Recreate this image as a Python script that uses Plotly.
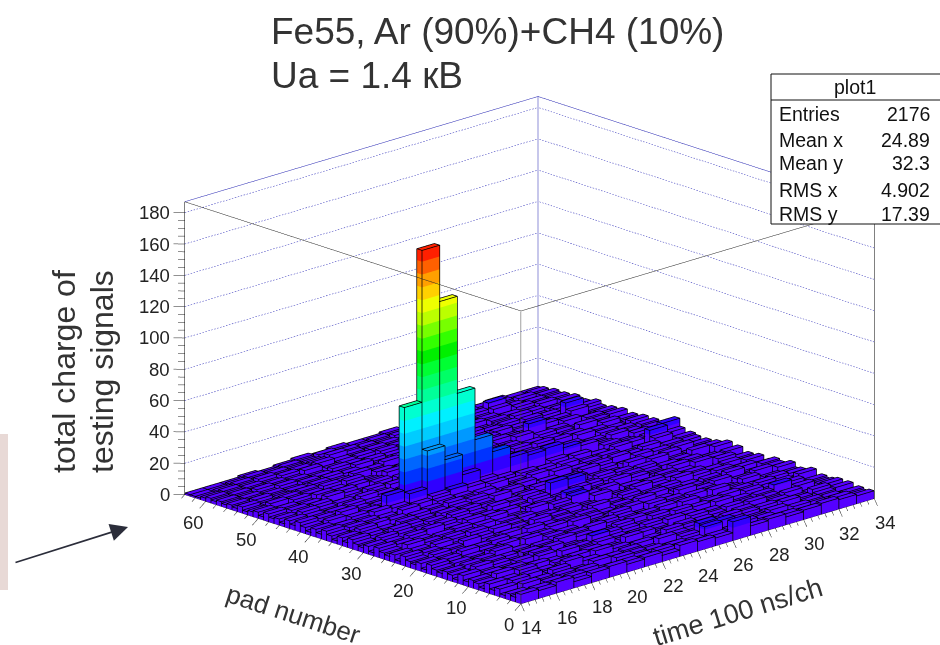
import plotly.graph_objects as go

W, H = 940, 645

# ---------- data ----------
time_bins = list(range(14, 34))   # lower edge of each 1-wide time bin
pad_bins = list(range(0, 64))     # lower edge of each 1-wide pad bin
z_ticks = [0, 20, 40, 60, 80, 100, 120, 140, 160, 180]
pad_ticks = [0, 10, 20, 30, 40, 50, 60]
time_ticks = [14, 16, 18, 20, 22, 24, 26, 28, 30, 32, 34]
stat_names = ["Entries", "Mean x", "Mean y", "RMS x", "RMS y"]
stat_values = ["2176", "24.89", "32.3", "4.902", "17.39"]

# total charge: one row per pad, one value per time bin
charge = [
    [6, 5, 7, 4, 6, 7, 5, 6, 4, 7, 6, 5, 12, 6, 7, 5, 6, 7, 6, 5],
    [3, 5, 4, 6, 2, 4, 5, 3, 6, 4, 3, 5, 6, 4, 3, 5, 4, 3, 6, 4],
    [4, 2, 5, 3, 6, 3, 7, 4, 2, 5, 4, 10, 4, 6, 5, 3, 6, 4, 3, 5],
    [2, 6, 3, 5, 4, 7, 3, 5, 4, 3, 6, 11, 9, 3, 4, 6, 3, 5, 4, 3],
    [5, 3, 4, 7, 3, 2, 5, 6, 3, 7, 2, 4, 6, 5, 3, 4, 7, 2, 5, 6],
    [3, 6, 2, 4, 8, 5, 3, 2, 6, 4, 5, 3, 2, 7, 5, 6, 3, 4, 7, 3],
    [6, 3, 5, 2, 4, 3, 7, 5, 4, 2, 7, 5, 3, 4, 6, 2, 5, 3, 4, 6],
    [2, 4, 7, 3, 5, 6, 2, 4, 8, 3, 4, 6, 5, 2, 3, 7, 4, 6, 2, 5],
    [4, 7, 3, 6, 2, 4, 5, 3, 5, 6, 3, 2, 7, 4, 6, 3, 5, 2, 6, 4],
    [5, 2, 6, 4, 3, 7, 4, 6, 2, 5, 4, 7, 3, 5, 2, 4, 6, 9, 3, 5],
    [3, 5, 4, 2, 6, 3, 5, 9, 4, 3, 6, 2, 5, 3, 7, 5, 3, 4, 6, 2],
    [6, 4, 3, 5, 7, 2, 4, 3, 6, 5, 2, 4, 7, 6, 3, 2, 6, 5, 3, 7],
    [2, 7, 5, 3, 4, 6, 3, 2, 5, 7, 3, 6, 4, 2, 5, 6, 3, 7, 4, 3],
    [4, 3, 6, 2, 5, 4, 7, 5, 3, 2, 6, 4, 3, 7, 4, 3, 5, 2, 6, 5],
    [5, 6, 2, 4, 3, 5, 2, 6, 7, 4, 3, 5, 6, 3, 2, 7, 4, 3, 5, 4],
    [3, 2, 5, 7, 4, 2, 6, 4, 3, 6, 5, 3, 2, 4, 6, 5, 3, 6, 2, 7],
    [4, 5, 3, 6, 2, 7, 3, 5, 2, 4, 7, 2, 6, 5, 3, 4, 2, 5, 7, 3],
    [6, 3, 4, 2, 6, 3, 5, 2, 7, 3, 4, 6, 3, 2, 7, 4, 6, 3, 4, 5],
    [2, 5, 7, 4, 3, 5, 4, 6, 3, 5, 2, 4, 7, 3, 5, 2, 4, 7, 3, 6],
    [5, 4, 2, 5, 6, 2, 7, 3, 4, 6, 3, 5, 2, 6, 4, 3, 5, 2, 6, 4],
    [3, 6, 4, 3, 2, 6, 3, 4, 5, 2, 7, 3, 4, 5, 6, 3, 2, 6, 4, 2],
    [4, 2, 5, 7, 3, 4, 2, 7, 6, 3, 5, 4, 6, 2, 3, 7, 5, 3, 2, 5],
    [6, 5, 3, 2, 5, 7, 4, 3, 2, 6, 4, 2, 5, 7, 4, 2, 6, 4, 5, 3],
    [2, 3, 6, 4, 7, 3, 5, 2, 4, 5, 3, 7, 3, 4, 6, 5, 3, 2, 7, 4],
    [5, 4, 2, 6, 3, 2, 6, 5, 3, 7, 9, 4, 2, 5, 3, 6, 4, 7, 3, 2],
    [3, 7, 5, 3, 4, 6, 2, 4, 7, 3, 10, 5, 6, 3, 2, 4, 7, 3, 5, 6],
    [4, 2, 3, 5, 6, 4, 7, 3, 5, 2, 6, 3, 4, 7, 5, 3, 2, 6, 4, 3],
    [6, 5, 4, 2, 3, 7, 3, 6, 2, 4, 5, 7, 3, 2, 6, 4, 5, 3, 2, 7],
    [2, 3, 6, 7, 4, 2, 5, 4, 3, 6, 13, 12, 5, 4, 3, 6, 2, 4, 7, 3],
    [5, 4, 2, 3, 6, 5, 3, 7, 4, 2, 6, 3, 4, 6, 5, 2, 7, 3, 4, 5],
    [3, 6, 5, 4, 2, 7, 4, 2, 5, 6, 3, 9, 2, 5, 3, 7, 4, 6, 2, 3],
    [4, 2, 7, 3, 5, 3, 6, 4, 3, 5, 7, 4, 6, 3, 2, 5, 3, 2, 6, 4],
    [6, 3, 4, 5, 2, 6, 2, 5, 7, 3, 4, 2, 5, 7, 4, 3, 6, 5, 3, 2],
    [3, 5, 2, 6, 4, 3, 5, 7, 4, 6, 3, 5, 2, 4, 6, 7, 2, 3, 5, 4],
    [5, 7, 3, 2, 6, 4, 7, 3, 2, 5, 6, 3, 7, 5, 3, 2, 4, 6, 3, 5],
    [2, 4, 6, 5, 3, 5, 3, 4, 6, 2, 4, 7, 4, 3, 5, 6, 3, 4, 7, 2],
    [4, 6, 3, 2, 7, 2, 6, 5, 3, 7, 5, 3, 2, 6, 4, 3, 7, 2, 11, 6],
    [6, 2, 5, 4, 3, 6, 8, 9, 7, 4, 3, 6, 5, 2, 7, 4, 3, 5, 6, 11],
    [3, 5, 4, 7, 6, 12, 36, 27, 14, 7, 5, 4, 3, 6, 5, 2, 6, 4, 3, 5],
    [5, 3, 6, 2, 13, 66, 163, 127, 65, 32, 21, 14, 12, 13, 10, 8, 5, 3, 6, 2],
    [2, 6, 3, 5, 4, 7, 9, 10, 8, 5, 4, 7, 3, 5, 2, 6, 4, 7, 3, 5],
    [4, 3, 7, 2, 5, 3, 6, 4, 6, 3, 7, 2, 5, 4, 6, 3, 5, 2, 4, 6],
    [6, 5, 2, 4, 3, 7, 2, 5, 3, 4, 2, 6, 3, 7, 4, 5, 3, 6, 5, 2],
    [3, 2, 5, 6, 4, 2, 6, 3, 7, 5, 4, 3, 6, 2, 5, 3, 7, 4, 2, 6],
    [5, 4, 3, 2, 7, 5, 3, 6, 2, 4, 6, 5, 2, 4, 7, 6, 2, 5, 3, 4],
    [2, 6, 4, 5, 3, 4, 7, 2, 5, 3, 7, 3, 4, 6, 3, 2, 5, 3, 6, 5],
    [4, 3, 6, 3, 2, 6, 5, 4, 3, 6, 2, 5, 7, 3, 5, 4, 2, 7, 4, 3],
    [3, 5, 2, 7, 4, 3, 2, 6, 5, 2, 4, 6, 3, 5, 2, 6, 4, 3, 5, 6],
    [5, 2, 4, 3, 6, 2, 5, 3, 7, 4, 3, 2, 6, 4, 7, 3, 5, 2, 6, 3],
    [2, 4, 3, 6, 2, 5, 4, 7, 2, 5, 6, 4, 3, 7, 2, 11, 3, 6, 4, 5],
    [4, 2, 5, 3, 4, 7, 3, 2, 6, 3, 4, 7, 5, 2, 4, 3, 6, 4, 2, 3],
    [3, 5, 2, 4, 6, 3, 2, 5, 4, 6, 2, 3, 5, 6, 3, 4, 2, 5, 7, 4],
    [2, 3, 4, 5, 2, 4, 6, 3, 2, 5, 7, 4, 2, 3, 6, 5, 4, 3, 11, 6],
    [4, 2, 3, 2, 5, 3, 2, 4, 6, 2, 3, 5, 6, 4, 2, 3, 6, 5, 3, 2],
    [2, 4, 2, 3, 3, 5, 4, 2, 3, 5, 4, 2, 3, 6, 4, 5, 2, 3, 5, 4],
    [3, 2, 3, 2, 4, 2, 3, 5, 2, 3, 6, 4, 5, 2, 3, 4, 6, 2, 4, 3],
    [2, 3, 2, 4, 2, 3, 5, 2, 4, 3, 2, 5, 3, 4, 2, 5, 3, 4, 2, 5],
    [3, 2, 4, 2, 3, 2, 4, 3, 2, 5, 3, 2, 4, 3, 5, 2, 4, 3, 5, 2],
    [2, 3, 2, 3, 2, 5, 2, 3, 4, 2, 4, 3, 2, 5, 3, 4, 2, 5, 3, 4],
    [3, 2, 3, 2, 4, 2, 5, 3, 2, 4, 2, 5, 3, 2, 4, 3, 6, 2, 4, 3],
    [2, 3, 2, 4, 2, 3, 4, 6, 3, 2, 3, 2, 4, 3, 2, 5, 9, 3, 2, 4],
    [1, 2, 3, 2, 3, 2, 3, 2, 4, 3, 2, 4, 2, 3, 4, 2, 3, 2, 4, 2],
    [1, 1, 2, 3, 2, 3, 2, 4, 2, 2, 3, 2, 3, 2, 3, 2, 4, 3, 2, 3],
    [1, 1, 1, 2, 1, 2, 3, 2, 3, 2, 2, 3, 2, 3, 2, 3, 2, 3, 2, 2],
]

# ---------- rainbow palette, one colour per height band ----------
palette = ["#5500FF", "#3000FF", "#0033FF", "#0066FF", "#0099FF", "#00CCFF", "#00F0FF",
           "#00FFD0", "#00FF99", "#00FF66", "#00FF33", "#00F000", "#33FF00", "#77FF00",
           "#BBFF00", "#EEFF00", "#FFD000", "#FFA000", "#FF6000", "#FF2000"]
band = 164 / len(palette)

T0, T1 = time_bins[0], time_bins[-1] + 1
P0, P1 = pad_bins[0], pad_bins[-1] + 1
ZTOP = 187

# nudge bar outlines towards the camera so that they sit on top of the faces
NT, NP, NZ = -0.0405, -0.136, 0.284


def px(x):
    return x / W


def py(y):
    return 1 - y / H


# ---------- build bars through the 3D scene ----------
vx, vy, vz, fi, fj, fk, fc = [], [], [], [], [], [], []


def quad(a, b, c, d, col):
    n = len(vx)
    for q in (a, b, c, d):
        vx.append(q[0]); vy.append(q[1]); vz.append(q[2])
    fi.extend([n, n]); fj.extend([n + 1, n + 2]); fk.extend([n + 2, n + 3])
    fc.extend([col, col])


ex, ey, ez = [], [], []


def seg(pts):
    for q in pts:
        ex.append(q[0] + NT); ey.append(q[1] + NP); ez.append(q[2] + NZ)
    ex.append(None); ey.append(None); ez.append(None)


for ip, p in enumerate(pad_bins):
    for it, t in enumerate(time_bins):
        v = charge[ip][it]
        t1, p1 = t + 1, p + 1
        k = 0
        while k * band < v:
            lo = k * band
            hi = min((k + 1) * band, v)
            col = palette[min(k, len(palette) - 1)]
            quad((t, p, lo), (t1, p, lo), (t1, p, hi), (t, p, hi), col)
            quad((t, p, lo), (t, p1, lo), (t, p1, hi), (t, p, hi), col)
            quad((t1, p, lo), (t1, p1, lo), (t1, p1, hi), (t1, p, hi), col)
            quad((t, p1, lo), (t1, p1, lo), (t1, p1, hi), (t, p1, hi), col)
            k += 1
        top_col = palette[min(k - 1, len(palette) - 1)]
        quad((t, p, v), (t1, p, v), (t1, p1, v), (t, p1, v), top_col)
        seg([(t, p, v), (t1, p, v), (t1, p1, v), (t, p1, v), (t, p, v)])
        seg([(t, p, 0), (t, p, v)])
        seg([(t1, p, 0), (t1, p, v)])
        seg([(t, p1, 0), (t, p1, v)])

fig = go.Figure()
fig.add_trace(go.Mesh3d(
    x=vx, y=vy, z=vz, i=fi, j=fj, k=fk, facecolor=fc, flatshading=True,
    lighting=dict(ambient=1, diffuse=0, specular=0, roughness=1, fresnel=0),
    hoverinfo="skip", showscale=False))


def lines(pts_list, color, width=1):
    xs, ys, zs = [], [], []
    for pts in pts_list:
        for q in pts:
            xs.append(q[0]); ys.append(q[1]); zs.append(q[2])
        xs.append(None); ys.append(None); zs.append(None)
    fig.add_trace(go.Scatter3d(x=xs, y=ys, z=zs, mode="lines", line=dict(color=color, width=width),
                               hoverinfo="skip", showlegend=False))


fig.add_trace(go.Scatter3d(x=ex, y=ey, z=ez, mode="lines", line=dict(color="#000000", width=1.5),
                           hoverinfo="skip", showlegend=False, connectgaps=False))

# walls: dotted grid (short dashes along each wall) and blue back frame
grid = []
DOTS = 120
for z in z_ticks[1:]:
    for i in range(DOTS):
        a = T0 + (T1 - T0) * i / DOTS
        b = T0 + (T1 - T0) * (i + 0.5) / DOTS
        grid.append([(a, P1, z), (b, P1, z)])
        a = P0 + (P1 - P0) * i / DOTS
        b = P0 + (P1 - P0) * (i + 0.5) / DOTS
        grid.append([(T1, a, z), (T1, b, z)])
lines(grid, "#2a2ab8", 1)
lines([[(T0, P1, ZTOP), (T1, P1, ZTOP), (T1, P0, ZTOP)], [(T1, P1, 0), (T1, P1, ZTOP)]], "#2020b0", 1)
# front frame
lines([[(T0, P1, ZTOP), (T0, P0, ZTOP), (T1, P0, ZTOP)]], "#222222", 1)
lines([[(T0 + NT, P0 + NP, NZ), (T0 + NT, P0 + NP, ZTOP)]], "#444444", 1)
lines([[(T0, P1, 0), (T0, P1, ZTOP)], [(T1, P0, 0), (T1, P0, ZTOP)],
       [(T0, P1, 0), (T0, P0, 0), (T1, P0, 0)]], "#000000", 1)

# tick marks
ticks = []
for z in range(0, 185, 5):
    d = 0.32 if z % 20 == 0 else 0.19
    ticks.append([(T0, P1, z), (T0 - d, P1 + 3.35 * d, z)])
for p in range(0, 65, 2):
    f = 1.0 if p % 10 == 0 else 0.55
    ticks.append([(T0, p, 0), (T0 - 0.34 * f, p, -3.2 * f)])
for i in range(0, 51):
    t = T0 + i * 0.4
    f = 1.0 if i % 5 == 0 else 0.55
    ticks.append([(t, P0, 0), (t, P0 - 0.63 * f, -4 * f)])
lines(ticks, "#222222", 1)

# ---------- tick labels in data coordinates ----------
tick_font = dict(family="Liberation Sans", size=18.5, color="#222222")
scene_ann = []
for z in z_ticks:
    scene_ann.append(dict(x=T0, y=P1, z=z, text=str(z), showarrow=False, xanchor="right",
                          yanchor="middle", xshift=-13, yshift=0, font=tick_font))
for p in pad_ticks:
    scene_ann.append(dict(x=T0, y=p, z=0, text=str(p), showarrow=False, xanchor="center",
                          yanchor="middle", xshift=-12, yshift=-21, font=tick_font))
for t in time_ticks:
    scene_ann.append(dict(x=t, y=P0, z=0, text=str(t), showarrow=False, xanchor="center",
                          yanchor="middle", xshift=11, yshift=-24, font=tick_font))

ax_off = dict(visible=False, showgrid=False, showline=False, zeroline=False,
              showticklabels=False, showbackground=False, showspikes=False, title="")
R = 2.0
SCALE = 592 / 585
fig.update_layout(
    width=W, height=H, margin=dict(l=0, r=0, t=0, b=0), paper_bgcolor="white", showlegend=False,
    scene=dict(
        domain=dict(x=[119 / W, 1], y=[0, 1 - 60 / H]),
        xaxis=dict(range=[12, 36], **ax_off),
        yaxis=dict(range=[-4, 68], **ax_off),
        zaxis=dict(range=[-8, 192], **ax_off),
        aspectmode="manual", aspectratio=dict(x=1.983 * SCALE, y=1.8476 * SCALE, z=1.1133 * SCALE),
        camera=dict(eye=dict(x=-0.6916 * R, y=-0.7223 * R, z=0.3274 * R),
                    up=dict(x=0, y=0, z=1), center=dict(x=0, y=0, z=0),
                    projection=dict(type="orthographic")),
        annotations=scene_ann,
    ),
)

# ---------- page-level text and overlays ----------
dark = "#333333"
ann = [
    dict(x=px(269), y=py(31), text="Fe55, Ar (90%)+CH4 (10%)", font=dict(size=37, color=dark), xanchor="left"),
    dict(x=px(269), y=py(76), text="Ua = 1.4 кВ", font=dict(size=37, color=dark), xanchor="left"),
    dict(x=px(64), y=py(372), text="total charge of", textangle=-90, font=dict(size=32, color=dark), xanchor="center"),
    dict(x=px(102), y=py(372), text="testing signals", textangle=-90, font=dict(size=32, color=dark), xanchor="center"),
    dict(x=px(293), y=py(614), text="pad number", textangle=18, font=dict(size=26, color=dark), xanchor="center"),
    dict(x=px(738), y=py(612), text="time 100 ns/ch", textangle=-17, font=dict(size=27, color=dark), xanchor="center"),
    dict(x=px(855), y=py(87), text="plot1", font=dict(size=19.5, color="#111111"), xanchor="center"),
]
for a in ann:
    a.update(xref="paper", yref="paper", showarrow=False, yanchor="middle")
    a["font"]["family"] = "Liberation Sans"
rows_y = [114, 140, 163, 190, 214]
for name, val, y in zip(stat_names, stat_values, rows_y):
    for txt, x, anc in ((name, 777, "left"), (val, 932, "right")):
        ann.append(dict(x=px(x), y=py(y), xref="paper", yref="paper", text=txt, showarrow=False,
                        xanchor=anc, yanchor="middle",
                        font=dict(family="Liberation Sans", size=19.5, color="#111111")))
ann.append(dict(x=px(128), y=py(527), xref="paper", yref="paper", axref="pixel", ayref="pixel",
                ax=-114, ay=36, text="", showarrow=True, arrowhead=2, arrowsize=2.2,
                arrowwidth=1.6, arrowcolor="#2b2d3a"))
shapes = [
    dict(type="rect", xref="paper", yref="paper", x0=px(0), x1=px(8), y0=py(590), y1=py(434),
         fillcolor="#E8D9D6", line=dict(width=0), layer="above"),
    dict(type="rect", xref="paper", yref="paper", x0=px(771), x1=px(945), y0=py(224), y1=py(74),
         fillcolor="white", line=dict(color="#111111", width=1), layer="above"),
    dict(type="line", xref="paper", yref="paper", x0=px(771), x1=px(945), y0=py(100), y1=py(100),
         line=dict(color="#111111", width=1), layer="above"),
]
fig.update_layout(annotations=ann, shapes=shapes)
fig.write_html("out.html", config=dict(displayModeBar=False),
               post_script="document.body.style.margin='0';document.documentElement.style.overflow='hidden';")
